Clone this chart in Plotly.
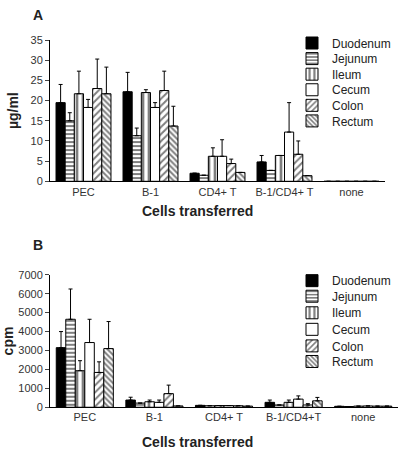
import plotly.graph_objects as go

categories_a = ["PEC", "B-1", "CD4+ T", "B-1/CD4+ T", "none"]
categories_b = ["PEC", "B-1", "CD4+ T", "B-1/CD4+T", "none"]
organs = ["Duodenum", "Jejunum", "Ileum", "Cecum", "Colon", "Rectum"]

# Panel A (µg/ml): values per organ across the 5 categories, and upper error
a_duodenum = [19.5, 22.2, 2.0, 4.8, 0]
a_jejunum = [15.0, 11.3, 1.5, 2.7, 0]
a_ileum = [21.7, 22.0, 6.2, 6.4, 0]
a_cecum = [18.3, 18.3, 6.2, 12.2, 0]
a_colon = [23.0, 22.5, 4.4, 6.7, 0]
a_rectum = [21.7, 13.7, 2.2, 1.4, 0]
a_err_duodenum = [4.5, 4.8, 0, 1.6, 0]
a_err_jejunum = [2.0, 1.9, 0, 0, 0]
a_err_ileum = [5.6, 0.7, 2.1, 0, 0]
a_err_cecum = [2.0, 1.2, 4.1, 7.3, 0]
a_err_colon = [7.3, 4.8, 1.1, 3.3, 0]
a_err_rectum = [6.6, 4.9, 0, 0, 0]

# Panel B (cpm)
b_duodenum = [3150, 380, 100, 260, 50]
b_jejunum = [4650, 220, 80, 120, 40]
b_ileum = [1930, 290, 90, 260, 60]
b_cecum = [3420, 260, 90, 430, 70]
b_colon = [1840, 720, 80, 120, 60]
b_rectum = [3100, 70, 60, 340, 60]
b_err_duodenum = [850, 150, 0, 120, 0]
b_err_jejunum = [1600, 0, 0, 0, 0]
b_err_ileum = [530, 90, 0, 120, 0]
b_err_cecum = [1230, 120, 0, 170, 0]
b_err_colon = [560, 450, 0, 70, 0]
b_err_rectum = [1430, 0, 0, 180, 0]

a_vals = [a_duodenum, a_jejunum, a_ileum, a_cecum, a_colon, a_rectum]
a_errs = [a_err_duodenum, a_err_jejunum, a_err_ileum, a_err_cecum, a_err_colon, a_err_rectum]
b_vals = [b_duodenum, b_jejunum, b_ileum, b_cecum, b_colon, b_rectum]
b_errs = [b_err_duodenum, b_err_jejunum, b_err_ileum, b_err_cecum, b_err_colon, b_err_rectum]

styles = [
    dict(color="black", pattern=dict(shape="")),
    dict(color="white", pattern=dict(shape="-", fgcolor="black", bgcolor="white", size=4, solidity=0.5)),
    dict(color="white", pattern=dict(shape="|", fgcolor="black", bgcolor="white", size=6, solidity=0.45)),
    dict(color="white", pattern=dict(shape="")),
    dict(color="white", pattern=dict(shape="/", fgcolor="black", bgcolor="white", size=5, solidity=0.4)),
    dict(color="white", pattern=dict(shape="\\", fgcolor="black", bgcolor="white", size=4, solidity=0.5)),
]

FONT = "Liberation Sans, Arial, sans-serif"
W, H = 400, 460


def px_x(p):
    return p / W


def px_y(p):
    return 1 - p / H


legend_rows_a = [38, 54, 70, 86, 102, 118]
legend_rows_b = [282, 298, 315, 332, 349, 365]

fig = go.Figure()
for i, org in enumerate(organs):
    st = styles[i]
    fig.add_trace(go.Bar(
        x=categories_a, y=a_vals[i], name=org, xaxis="x", yaxis="y",
        legend="legend" if i == 0 else f"legend{i + 1}", showlegend=True,
        marker=dict(color=st["color"], pattern=st["pattern"], line=dict(color="black", width=1)),
        error_y=dict(type="data", symmetric=False, array=a_errs[i], arrayminus=[0] * 5,
                     color="black", thickness=1, width=2),
    ))
for i, org in enumerate(organs):
    st = styles[i]
    fig.add_trace(go.Bar(
        x=categories_b, y=b_vals[i], name=org, xaxis="x2", yaxis="y2",
        legend=f"legend{i + 7}", showlegend=True,
        marker=dict(color=st["color"], pattern=st["pattern"], line=dict(color="black", width=1)),
        error_y=dict(type="data", symmetric=False, array=b_errs[i], arrayminus=[0] * 5,
                     color="black", thickness=1, width=2),
    ))

tickfont = dict(family=FONT, size=11, color="#333")
legfont = dict(family=FONT, size=12, color="#222")

legends = {}
for i in range(6):
    key = "legend" if i == 0 else f"legend{i + 1}"
    legends[key] = dict(x=px_x(292), y=px_y(legend_rows_a[i]), xanchor="left", yanchor="middle",
                        font=legfont, bgcolor="rgba(0,0,0,0)", itemwidth=30)
    legends[f"legend{i + 7}"] = dict(x=px_x(292), y=px_y(legend_rows_b[i]), xanchor="left",
                                     yanchor="middle", font=legfont, bgcolor="rgba(0,0,0,0)",
                                     itemwidth=30)

fig.update_layout(
    width=W, height=H,
    margin=dict(l=0, r=0, t=0, b=0),
    showlegend=True,
    paper_bgcolor="white", plot_bgcolor="white",
    barmode="group", bargap=0.18, bargroupgap=0,
    font=dict(family=FONT, color="#222"),
    xaxis=dict(domain=[px_x(50), px_x(385)], anchor="y", showline=True, linecolor="black",
               linewidth=1, ticks="", tickfont=tickfont, showgrid=False),
    yaxis=dict(domain=[px_y(180), px_y(35)], anchor="x", range=[0, 35], dtick=5,
               showline=True, linecolor="black", linewidth=1, ticks="outside", ticklen=4,
               tickfont=tickfont, showgrid=False, zeroline=False,
               title=dict(text="<b>µg/ml</b>", font=dict(family=FONT, size=14, color="#222"), standoff=8)),
    xaxis2=dict(domain=[px_x(50), px_x(398)], anchor="y2", showline=True, linecolor="black",
                linewidth=1, ticks="", tickfont=tickfont, showgrid=False),
    yaxis2=dict(domain=[px_y(412), px_y(276)], anchor="x2", range=[0, 7000], dtick=1000,
                showline=True, linecolor="black", linewidth=1, ticks="outside", ticklen=4,
                tickfont=tickfont, showgrid=False, zeroline=False,
                title=dict(text="<b>cpm</b>", font=dict(family=FONT, size=14, color="#222"), standoff=8)),
    annotations=[
        dict(text="<b>A</b>", x=px_x(31), y=px_y(9), xref="paper", yref="paper",
             showarrow=False, xanchor="left", yanchor="middle",
             font=dict(family=FONT, size=14, color="#222")),
        dict(text="<b>B</b>", x=px_x(31), y=px_y(245), xref="paper", yref="paper",
             showarrow=False, xanchor="left", yanchor="middle",
             font=dict(family=FONT, size=14, color="#222")),
        dict(text="<b>Cells transferred</b>", x=px_x(197), y=px_y(211), xref="paper", yref="paper",
             showarrow=False, xanchor="center", yanchor="middle",
             font=dict(family=FONT, size=14, color="#222")),
        dict(text="<b>Cells transferred</b>", x=px_x(197), y=px_y(448), xref="paper", yref="paper",
             showarrow=False, xanchor="center", yanchor="middle",
             font=dict(family=FONT, size=14, color="#222")),
    ],
    **legends,
)

fig.write_html("out.html", config={"displayModeBar": False},
               post_script="document.body.style.margin='0';")
